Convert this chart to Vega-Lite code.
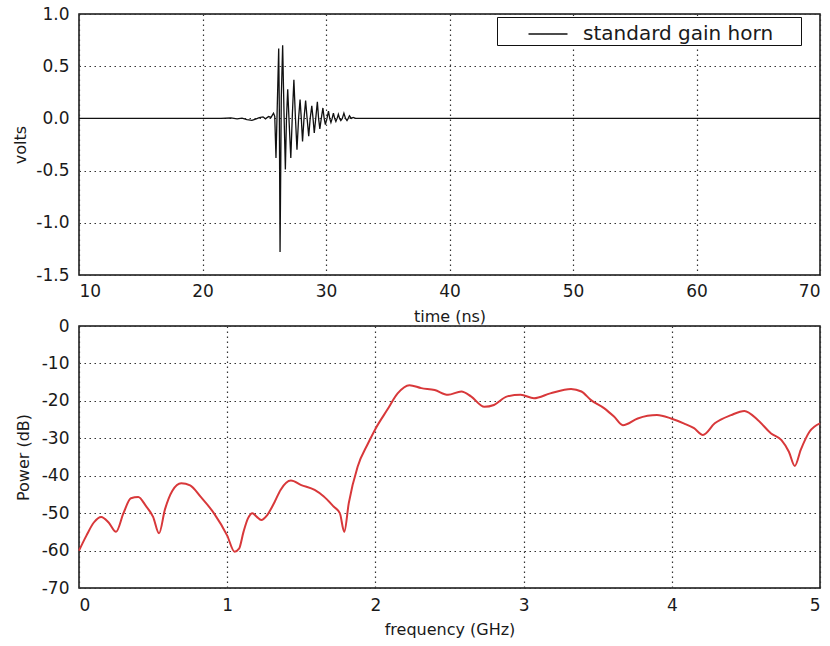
{
  "$schema": "https://vega.github.io/schema/vega-lite/v6.json",
  "background": "white",
  "padding": {"left": 12, "top": 4, "right": 5, "bottom": 5},
  "spacing": 51,
  "bounds": "flush",
  "config": {
    "font": "DejaVu Sans",
    "view": {"stroke": "#111", "strokeWidth": 1.5},
    "axis": {
      "labelFont": "DejaVu Sans",
      "labelFontSize": 17,
      "labelColor": "#1a1a1a",
      "labelExpr": "replace(datum.label, '\u2212', '-')",
      "titleFont": "DejaVu Sans",
      "titleFontSize": 16,
      "titleFontWeight": "normal",
      "titleColor": "#1a1a1a",
      "grid": true,
      "gridColor": "#333",
      "gridDash": [1.5, 3.5],
      "gridWidth": 1.2,
      "gridOpacity": 1,
      "domain": false,
      "ticks": false,
      "labelPadding": 9
    }
  },
  "vconcat": [
    {
      "width": 741,
      "height": 261,
      "data": {
        "values": [
          {"t": 10, "v": 0}, {"t": 21.5, "v": 0}, {"t": 22.3, "v": 0.004}, {"t": 22.8, "v": -0.005},
          {"t": 23.2, "v": 0.003}, {"t": 23.6, "v": -0.012}, {"t": 24.0, "v": -0.018}, {"t": 24.3, "v": -0.006},
          {"t": 24.6, "v": 0.008}, {"t": 24.9, "v": 0.015}, {"t": 25.1, "v": -0.004}, {"t": 25.35, "v": 0.018},
          {"t": 25.55, "v": 0.01}, {"t": 25.75, "v": 0.05}, {"t": 25.85, "v": 0.02}, {"t": 25.95, "v": -0.38},
          {"t": 26.05, "v": 0.1}, {"t": 26.17, "v": 0.67}, {"t": 26.22, "v": 0.1}, {"t": 26.28, "v": -1.28},
          {"t": 26.38, "v": 0.2}, {"t": 26.49, "v": 0.7}, {"t": 26.6, "v": 0.05}, {"t": 26.71, "v": -0.49},
          {"t": 26.8, "v": 0.0}, {"t": 26.9, "v": 0.28}, {"t": 27.02, "v": -0.05}, {"t": 27.15, "v": -0.38},
          {"t": 27.28, "v": 0.05}, {"t": 27.4, "v": 0.37}, {"t": 27.52, "v": 0.02}, {"t": 27.65, "v": -0.3},
          {"t": 27.78, "v": 0.0}, {"t": 27.9, "v": 0.18}, {"t": 28.0, "v": 0.0}, {"t": 28.1, "v": -0.22},
          {"t": 28.22, "v": 0.0}, {"t": 28.35, "v": 0.17}, {"t": 28.47, "v": 0.0}, {"t": 28.6, "v": -0.17},
          {"t": 28.72, "v": 0.0}, {"t": 28.85, "v": 0.12}, {"t": 28.95, "v": 0.0}, {"t": 29.05, "v": -0.14},
          {"t": 29.17, "v": 0.0}, {"t": 29.3, "v": 0.16}, {"t": 29.4, "v": 0.0}, {"t": 29.5, "v": -0.1},
          {"t": 29.62, "v": 0.0}, {"t": 29.75, "v": 0.1}, {"t": 29.85, "v": 0.0}, {"t": 29.95, "v": -0.06},
          {"t": 30.08, "v": 0.0}, {"t": 30.2, "v": 0.07}, {"t": 30.3, "v": 0.0}, {"t": 30.4, "v": -0.04},
          {"t": 30.5, "v": 0.0}, {"t": 30.6, "v": 0.05}, {"t": 30.7, "v": 0.0}, {"t": 30.8, "v": -0.03},
          {"t": 30.9, "v": 0.0}, {"t": 31.0, "v": 0.04}, {"t": 31.1, "v": 0.0}, {"t": 31.2, "v": -0.02},
          {"t": 31.32, "v": 0.0}, {"t": 31.45, "v": 0.05}, {"t": 31.58, "v": 0.0}, {"t": 31.7, "v": -0.02},
          {"t": 31.8, "v": 0.0}, {"t": 31.9, "v": 0.025}, {"t": 32.05, "v": 0.0}, {"t": 32.2, "v": 0.01},
          {"t": 32.4, "v": 0.0}, {"t": 70, "v": 0}
        ]
      },
      "mark": {"type": "line", "strokeWidth": 1.3, "interpolate": "linear"},
      "encoding": {
        "x": {
          "field": "t", "type": "quantitative",
          "scale": {"domain": [10, 70], "nice": false},
          "axis": {"title": "time (ns)", "values": [10, 20, 30, 40, 50, 60, 70], "labelPadding": 8, "titlePadding": 9}
        },
        "y": {
          "field": "v", "type": "quantitative",
          "scale": {"domain": [-1.5, 1.0], "nice": false},
          "axis": {"title": "volts", "values": [-1.5, -1, -0.5, 0, 0.5, 1], "format": ".1f", "labelPadding": 10, "titlePadding": 7}
        },
        "color": {
          "datum": "standard gain horn",
          "type": "nominal",
          "scale": {"range": ["#111"]},
          "legend": {
            "title": "\u00a0",
            "titleOrient": "right",
            "titlePadding": 27,
            "titleFontSize": 20,
            "orient": "none",
            "legendX": 418,
            "legendY": 3,
            "fillColor": "white",
            "strokeColor": "#111",
            "padding": 1,
            "labelFont": "DejaVu Sans",
            "labelFontSize": 20,
            "labelColor": "#1a1a1a",
            "labelLimit": 300,
            "symbolType": "M-1.3,0H1.3",
            "symbolSize": 900,
            "symbolStrokeWidth": 1.3,
            "symbolStrokeColor": "#111",
            "symbolOffset": 34,
            "labelOffset": 19
          }
        }
      }
    },
    {
      "width": 741,
      "height": 262,
      "data": {
        "values": [
          {"f": 0, "p": -60}, {"f": 0.05, "p": -56}, {"f": 0.1, "p": -52.5}, {"f": 0.15, "p": -51},
          {"f": 0.2, "p": -52.5}, {"f": 0.25, "p": -55}, {"f": 0.3, "p": -50}, {"f": 0.35, "p": -46},
          {"f": 0.4, "p": -45.7}, {"f": 0.45, "p": -48}, {"f": 0.5, "p": -51}, {"f": 0.54, "p": -55.4},
          {"f": 0.58, "p": -49}, {"f": 0.63, "p": -44}, {"f": 0.69, "p": -42}, {"f": 0.75, "p": -42.6},
          {"f": 0.82, "p": -45.6}, {"f": 0.91, "p": -50}, {"f": 1.0, "p": -56}, {"f": 1.05, "p": -60.3},
          {"f": 1.08, "p": -59.5}, {"f": 1.11, "p": -55}, {"f": 1.14, "p": -51.4}, {"f": 1.17, "p": -50},
          {"f": 1.2, "p": -51}, {"f": 1.23, "p": -51.8}, {"f": 1.27, "p": -50.5}, {"f": 1.32, "p": -47},
          {"f": 1.36, "p": -43.8}, {"f": 1.43, "p": -41.3}, {"f": 1.5, "p": -42.5}, {"f": 1.59, "p": -43.8},
          {"f": 1.65, "p": -45.5}, {"f": 1.72, "p": -48.3}, {"f": 1.76, "p": -50}, {"f": 1.79, "p": -55},
          {"f": 1.82, "p": -47.4}, {"f": 1.88, "p": -37.6}, {"f": 1.95, "p": -31.4}, {"f": 2.0, "p": -27.5},
          {"f": 2.08, "p": -22.4}, {"f": 2.15, "p": -18}, {"f": 2.23, "p": -15.8}, {"f": 2.31, "p": -16.6},
          {"f": 2.4, "p": -17.1}, {"f": 2.49, "p": -18.4}, {"f": 2.58, "p": -17.5}, {"f": 2.645, "p": -18.8},
          {"f": 2.735, "p": -21.6}, {"f": 2.8, "p": -21.1}, {"f": 2.89, "p": -18.8}, {"f": 2.98, "p": -18.4},
          {"f": 3.07, "p": -19.3}, {"f": 3.18, "p": -18}, {"f": 3.32, "p": -16.8}, {"f": 3.39, "p": -17.5},
          {"f": 3.455, "p": -19.8}, {"f": 3.545, "p": -22}, {"f": 3.61, "p": -24.2}, {"f": 3.67, "p": -26.5},
          {"f": 3.77, "p": -24.7}, {"f": 3.9, "p": -23.8}, {"f": 3.995, "p": -24.7}, {"f": 4.08, "p": -26},
          {"f": 4.15, "p": -27.3}, {"f": 4.21, "p": -29.1}, {"f": 4.29, "p": -26}, {"f": 4.4, "p": -23.8},
          {"f": 4.49, "p": -22.7}, {"f": 4.58, "p": -25.1}, {"f": 4.67, "p": -28.7}, {"f": 4.74, "p": -30.5},
          {"f": 4.79, "p": -33.6}, {"f": 4.83, "p": -37.4}, {"f": 4.87, "p": -33.1}, {"f": 4.93, "p": -28.2},
          {"f": 5.0, "p": -26}
        ]
      },
      "mark": {"type": "line", "color": "#d8383a", "strokeWidth": 2, "interpolate": "monotone"},
      "encoding": {
        "x": {
          "field": "f", "type": "quantitative",
          "scale": {"domain": [0, 5], "nice": false},
          "axis": {"title": "frequency (GHz)", "values": [0, 1, 2, 3, 4, 5], "labelPadding": 9, "titlePadding": 8}
        },
        "y": {
          "field": "p", "type": "quantitative",
          "scale": {"domain": [-70, 0], "nice": false},
          "axis": {"title": "Power (dB)", "values": [-70, -60, -50, -40, -30, -20, -10, 0], "labelPadding": 10, "titlePadding": 10}
        }
      }
    }
  ]
}
